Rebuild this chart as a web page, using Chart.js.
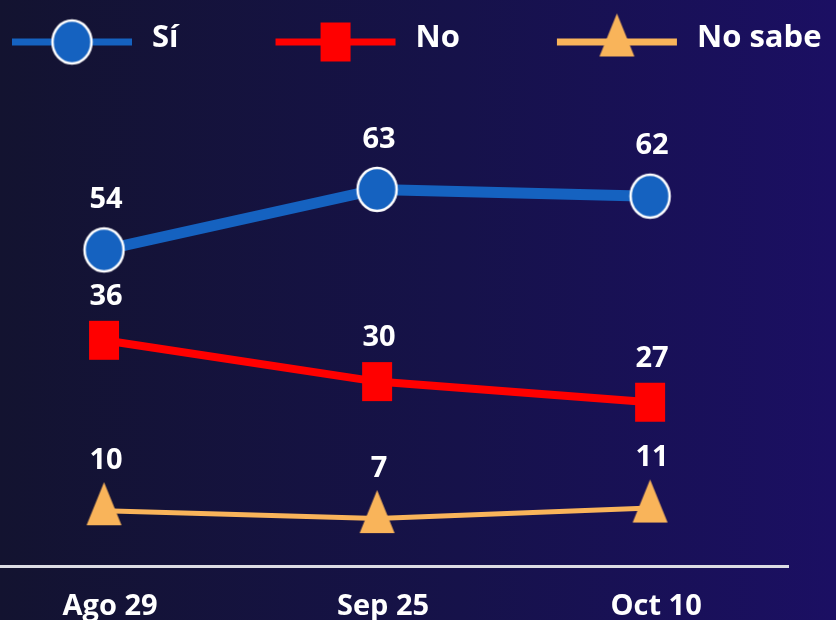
<!DOCTYPE html>
<html>
<head>
<meta charset="utf-8">
<script src="https://cdn.jsdelivr.net/npm/chart.js@4/dist/chart.umd.min.js"></script>
<style>
  html, body { margin: 0; padding: 0; }
  body {
    width: 836px; height: 620px; overflow: hidden;
    background: linear-gradient(90deg, #131330 0%, #16124a 55%, #1b0f63 100%);
  }
</style>
</head>
<body>
<canvas id="chart" width="836" height="620"></canvas>
<script>
const categories = ['Ago 29', 'Sep 25', 'Oct 10'];
const seriesNames = ['Sí', 'No', 'No sabe'];
const siValues = [54, 63, 62];
const noValues = [36, 30, 27];
const noSabeValues = [10, 7, 11];

const FONT = '"Open Sans"';
Chart.defaults.font.family = FONT;

// marcadores dibujados a mano (el original está algo estirado en vertical)
function makeMarker(shape, w, h, fill, stroke) {
  const pad = 3;
  const body = shape === 'triangle' ? Math.round(h * 4 / 3) : h;
  const c = document.createElement('canvas');
  c.width = w + pad * 2;
  c.height = body + pad * 2;
  const ctx = c.getContext('2d');
  ctx.fillStyle = fill;
  ctx.beginPath();
  if (shape === 'circle') {
    ctx.ellipse(c.width / 2, c.height / 2, w / 2, h / 2, 0, 0, Math.PI * 2);
  } else if (shape === 'rect') {
    ctx.rect(pad, pad, w, h);
  } else {
    // centroide del triángulo en el centro del canvas
    ctx.moveTo(pad + w / 2, pad);
    ctx.lineTo(pad + w, pad + h);
    ctx.lineTo(pad, pad + h);
    ctx.closePath();
  }
  ctx.fill();
  if (stroke) {
    ctx.lineWidth = 2.5;
    ctx.strokeStyle = stroke;
    ctx.stroke();
  }
  return c;
}

const BLUE = '#1562c0';
const RED = '#ff0000';
const ORANGE = '#f9b45a';

const markers = [
  makeMarker('circle', 39, 43, BLUE, '#ffffff'),
  makeMarker('rect', 30, 39, RED),
  makeMarker('triangle', 35, 43, ORANGE),
];

const toPoints = (vals) => vals.map((v, i) => ({ x: i, y: v }));

const valueLabels = {
  id: 'valueLabels',
  afterDatasetsDraw(chart) {
    const ctx = chart.ctx;
    ctx.save();
    ctx.fillStyle = '#ffffff';
    ctx.font = `bold 29px ${FONT}`;
    ctx.textAlign = 'center';
    ctx.textBaseline = 'middle';
    chart.data.datasets.forEach((ds, di) => {
      chart.getDatasetMeta(di).data.forEach((el, i) => {
        ctx.fillText(String(ds.data[i].y), el.x + 2, el.y - ds.labelOffset);
      });
    });
    ctx.restore();
  },
};

// leyenda con línea + marcador, como en el original
const lineLegend = {
  id: 'lineLegend',
  afterDraw(chart) {
    const ctx = chart.ctx;
    const y = 42;
    let x = 12;
    ctx.save();
    ctx.font = `bold 31px ${FONT}`;
    ctx.textBaseline = 'alphabetic';
    ctx.textAlign = 'left';
    chart.data.datasets.forEach((ds, di) => {
      ctx.strokeStyle = ds.borderColor;
      ctx.lineWidth = 7;
      ctx.beginPath();
      ctx.moveTo(x, y);
      ctx.lineTo(x + 120, y);
      ctx.stroke();
      const m = markers[di];
      ctx.drawImage(m, x + 60 - m.width / 2, y - m.height / 2);
      ctx.fillStyle = '#ffffff';
      ctx.fillText(ds.label, x + 140, y + 5);
      x += 140 + ctx.measureText(ds.label).width + 97;
    });
    ctx.restore();
  },
};

new Chart(document.getElementById('chart'), {
  type: 'line',
  data: {
    datasets: [
      {
        label: seriesNames[0],
        data: toPoints(siValues),
        yAxisID: 'ySi',
        borderColor: BLUE,
        borderWidth: 11,
        pointStyle: markers[0],
        labelOffset: 50,
        clip: false,
      },
      {
        label: seriesNames[1],
        data: toPoints(noValues),
        yAxisID: 'yNo',
        borderColor: RED,
        borderWidth: 8,
        pointStyle: markers[1],
        labelOffset: 44,
        clip: false,
      },
      {
        label: seriesNames[2],
        data: toPoints(noSabeValues),
        yAxisID: 'yNs',
        borderColor: ORANGE,
        borderWidth: 5,
        pointStyle: markers[2],
        labelOffset: 50,
        clip: false,
      },
    ],
  },
  options: {
    responsive: false,
    animation: false,
    layout: { autoPadding: false, padding: { top: 100, right: 48, left: 0, bottom: -26.8 } },
    plugins: { legend: { display: false }, tooltip: { enabled: false } },
    scales: {
      x: {
        type: 'linear',
        min: -0.381,
        max: 2.505,
        afterBuildTicks: (s) => { s.ticks = categories.map((_, i) => ({ value: i })); },
        grid: { display: false, drawTicks: false },
        border: { display: true, color: '#dcdce4', width: 3 },
        ticks: {
          color: '#ffffff',
          padding: 23,
          labelOffset: 6,
          font: { family: FONT, weight: 'bold', size: 29 },
          callback: (v) => categories[v],
        },
      },
      ySi: { type: 'linear', display: false, min: 6.95, max: 76.31 },
      yNo: { type: 'linear', display: false, min: 3.22, max: 70.89 },
      yNs: { type: 'linear', display: false, min: -11.06, max: 166.37 },
    },
  },
  plugins: [valueLabels, lineLegend],
});
</script>
</body>
</html>
